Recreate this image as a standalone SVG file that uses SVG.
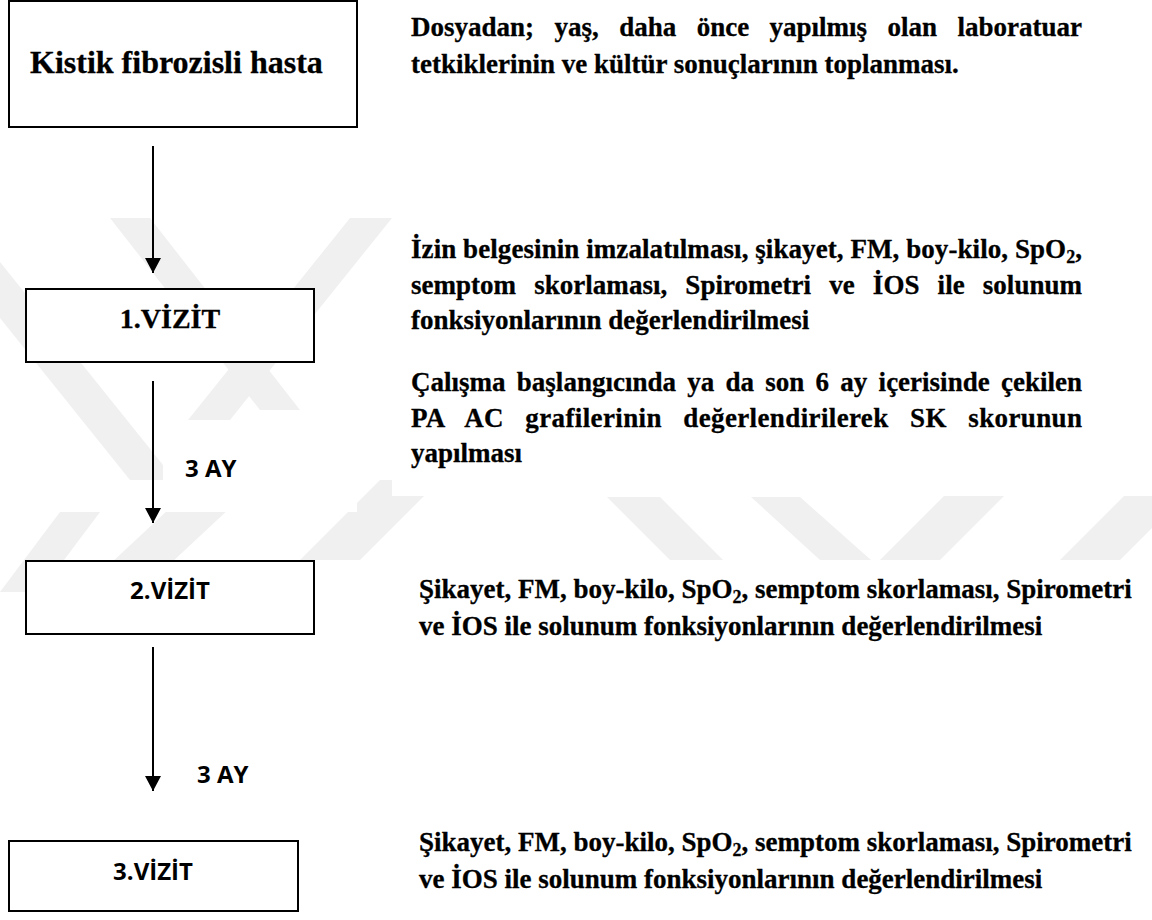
<svg xmlns="http://www.w3.org/2000/svg" width="1152" height="920" viewBox="0 0 1152 920">
<defs>
<marker id="ah" markerUnits="userSpaceOnUse" markerWidth="16" markerHeight="16" refX="15" refY="8" orient="auto">
<path d="M0,0 L15,8 L0,16 z" fill="#000"/>
</marker>
<style>
.box{fill:#fff;stroke:#000;stroke-width:2}
.conn{stroke:#000;stroke-width:2;fill:none;marker-end:url(#ah)}
.ser{font-family:'Liberation Serif','Times New Roman',serif;font-weight:bold;fill:#000;stroke:#000;stroke-width:0.3}
.desc{font-size:27px}
.sans{font-family:'Open Sans','Liberation Sans',sans-serif;font-weight:bold;fill:#000}
.wm{fill:#f0f0f0}
</style>
</defs>
<rect width="1152" height="920" fill="#fff"/>
<g id="watermark">
<polygon class="wm" points="110,218 150,218 300,410 260,410"/>
<polygon class="wm" points="350,218 392,218 230,420 188,420"/>
<polygon class="wm" points="0,262 0,318 130,480 175,480"/>
<polygon class="wm" points="0,592 40,592 100,512 60,512"/>
<polygon class="wm" points="80,592 140,592 260,480 200,480"/>
<polygon class="wm" points="300,560 360,560 440,480 380,480"/>
<polygon class="wm" points="607,497 660,497 723,560 670,560"/>
<polygon class="wm" points="751,497 800,497 871,560 820,560"/>
<polygon class="wm" points="880,560 940,560 1020,480 960,480"/>
<polygon class="wm" points="1060,560 1120,560 1152,528 1152,480 1140,480"/>
</g>
<rect x="392" y="218" width="760" height="278" fill="#fff"/>
<rect x="163" y="438" width="194" height="74" fill="#fff"/>
<g id="connectors">
<line class="conn" x1="153" y1="146" x2="153" y2="273"/>
<line class="conn" x1="153" y1="381" x2="153" y2="523"/>
<line class="conn" x1="153" y1="647" x2="153" y2="791"/>
</g>
<g id="label-3ay-1"><text class="sans" x="185" y="477" font-size="24">3 AY</text></g>
<g id="label-3ay-2"><text class="sans" x="197" y="783" font-size="24">3 AY</text></g>
<g id="node-hasta">
<rect class="box" x="9" y="1" width="348" height="126"/>
<text class="ser" x="30" y="73" font-size="32">Kistik fibrozisli hasta</text>
</g>
<g id="node-vizit1">
<rect class="box" x="26" y="289" width="288" height="73"/>
<text class="ser" x="170" y="328" font-size="28" text-anchor="middle">1.VİZİT</text>
</g>
<g id="node-vizit2">
<rect class="box" x="26" y="561" width="288" height="73"/>
<text class="sans" x="170" y="599" font-size="24" text-anchor="middle">2.VİZİT</text>
</g>
<g id="node-vizit3">
<rect class="box" x="9" y="841" width="289" height="70"/>
<text class="sans" x="153" y="880" font-size="24" text-anchor="middle">3.VİZİT</text>
</g>
<g id="note-dosya">
<text class="ser desc" x="411" y="36" word-spacing="13.7" textLength="671" lengthAdjust="spacing">Dosyadan; yaş, daha önce yapılmış olan laboratuar</text>
<text class="ser desc" x="411" y="73">tetkiklerinin ve kültür sonuçlarının toplanması.</text>
</g>
<g id="note-vizit1a">
<text class="ser desc" x="411" y="258" textLength="671" lengthAdjust="spacing">İzin belgesinin imzalatılması, şikayet, FM, boy-kilo, SpO<tspan font-size="18" dy="5">2</tspan><tspan dy="-5">,</tspan></text>
<text class="ser desc" x="411" y="294" word-spacing="11.4" textLength="671" lengthAdjust="spacing">semptom skorlaması, Spirometri ve İOS ile solunum</text>
<text class="ser desc" x="411" y="329">fonksiyonlarının değerlendirilmesi</text>
</g>
<g id="note-vizit1b">
<text class="ser desc" x="411" y="391" word-spacing="4.5" textLength="671" lengthAdjust="spacing">Çalışma başlangıcında ya da son 6 ay içerisinde çekilen</text>
<text class="ser desc" x="411" y="427" word-spacing="14.3" textLength="671" lengthAdjust="spacing">PA AC grafilerinin değerlendirilerek SK skorunun</text>
<text class="ser desc" x="411" y="462">yapılması</text>
</g>
<g id="note-vizit2">
<text class="ser desc" x="419" y="598">Şikayet, FM, boy-kilo, SpO<tspan font-size="18" dy="5">2</tspan><tspan dy="-5">, semptom skorlaması, Spirometri</tspan></text>
<text class="ser desc" x="419" y="635">ve İOS ile solunum fonksiyonlarının değerlendirilmesi</text>
</g>
<g id="note-vizit3">
<text class="ser desc" x="419" y="851">Şikayet, FM, boy-kilo, SpO<tspan font-size="18" dy="5">2</tspan><tspan dy="-5">, semptom skorlaması, Spirometri</tspan></text>
<text class="ser desc" x="419" y="888">ve İOS ile solunum fonksiyonlarının değerlendirilmesi</text>
</g>
</svg>
